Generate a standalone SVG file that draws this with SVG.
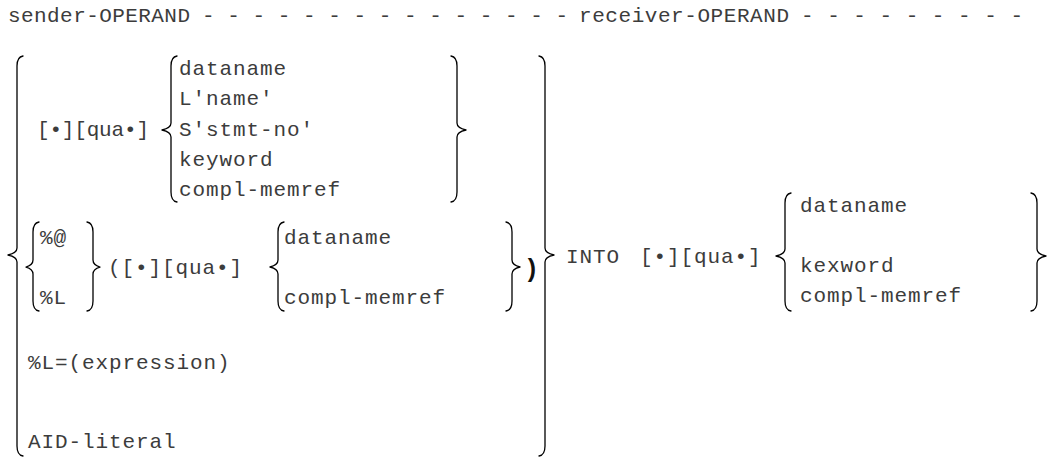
<svg xmlns="http://www.w3.org/2000/svg" width="1053" height="457" viewBox="0 0 1053 457">
<style>
text{font-family:"Liberation Mono","DejaVu Sans Mono",monospace;font-size:21px;letter-spacing:0.9px;fill:#3c3c3c;white-space:pre}
.b{fill:none;stroke:#000;stroke-width:1.3;stroke-linecap:round;stroke-linejoin:round}
.par{font-weight:bold;font-size:25px;fill:#111}
.fit{letter-spacing:0}
</style>
<rect width="1053" height="457" fill="#fff"/>
<g id="header">
<text class="fit" x="8" y="22" textLength="182" lengthAdjust="spacing">sender-OPERAND</text>
<text class="fit" x="202" y="22" textLength="366" lengthAdjust="spacing">- - - - - - - - - - - - - - -</text>
<text class="fit" x="579" y="22" textLength="210" lengthAdjust="spacing">receiver-OPERAND</text>
<text class="fit" x="801" y="22" textLength="222" lengthAdjust="spacing">- - - - - - - - -</text>
</g>
<g id="braces">
<path class="b" d="M23 56 Q17 57 17 66 L17 248 Q17 253 8 255 Q17 257 17 262 L17 446 Q17 455 23 456"/>
<path class="b" d="M539 56 Q545 57 545 66 L545 248 Q545 253 554 255 Q545 257 545 262 L545 446 Q545 455 539 456"/>
<path class="b" d="M177 56 Q171 57 171 66 L171 123 Q171 128 162 130 Q171 132 171 137 L171 192 Q171 201 177 202"/>
<path class="b" d="M451 56 Q457 57 457 66 L457 123 Q457 128 466 130 Q457 132 457 137 L457 192 Q457 201 451 202"/>
<path class="b" d="M39 222 Q33 223 33 232 L33 260 Q33 265 26 267 Q33 269 33 274 L33 301 Q33 310 39 311"/>
<path class="b" d="M87 222 Q93 223 93 232 L93 260 Q93 265 100 267 Q93 269 93 274 L93 301 Q93 310 87 311"/>
<path class="b" d="M284 222 Q278 223 278 232 L278 260 Q278 265 270 267 Q278 269 278 274 L278 301 Q278 310 284 311"/>
<path class="b" d="M506 222 Q512 223 512 232 L512 260 Q512 265 520 267 Q512 269 512 274 L512 301 Q512 310 506 311"/>
<path class="b" d="M791 193 Q785 194 785 203 L785 249 Q785 254 776 256 Q785 258 785 263 L785 301 Q785 310 791 311"/>
<path class="b" d="M1031 193 Q1037 194 1037 203 L1037 249 Q1037 254 1046 256 Q1037 258 1037 263 L1037 301 Q1037 310 1031 311"/>
</g>
<g id="group1">
<text class="fit" x="37" y="136" textLength="112" lengthAdjust="spacing">[•][qua•]</text>
<text x="179" y="75">dataname</text>
<text x="179" y="105">L'name'</text>
<text x="179" y="136">S'stmt-no'</text>
<text x="179" y="166">keyword</text>
<text x="179" y="196">compl-memref</text>
</g>
<g id="group2">
<text x="40" y="244">%@</text>
<text x="40" y="304">%L</text>
<text x="108" y="274">([•][qua•]</text>
<text x="284" y="244">dataname</text>
<text x="284" y="304">compl-memref</text>
<text class="par" x="524" y="277">)</text>
</g>
<g id="group3">
<text x="28" y="369">%L=(expression)</text>
</g>
<g id="group4">
<text x="28" y="448">AID-literal</text>
</g>
<g id="receiver">
<text x="566" y="263">INTO</text>
<text x="640" y="263">[•][qua•]</text>
<text x="800" y="212">dataname</text>
<text x="800" y="272">kexword</text>
<text x="800" y="302">compl-memref</text>
</g>
</svg>
